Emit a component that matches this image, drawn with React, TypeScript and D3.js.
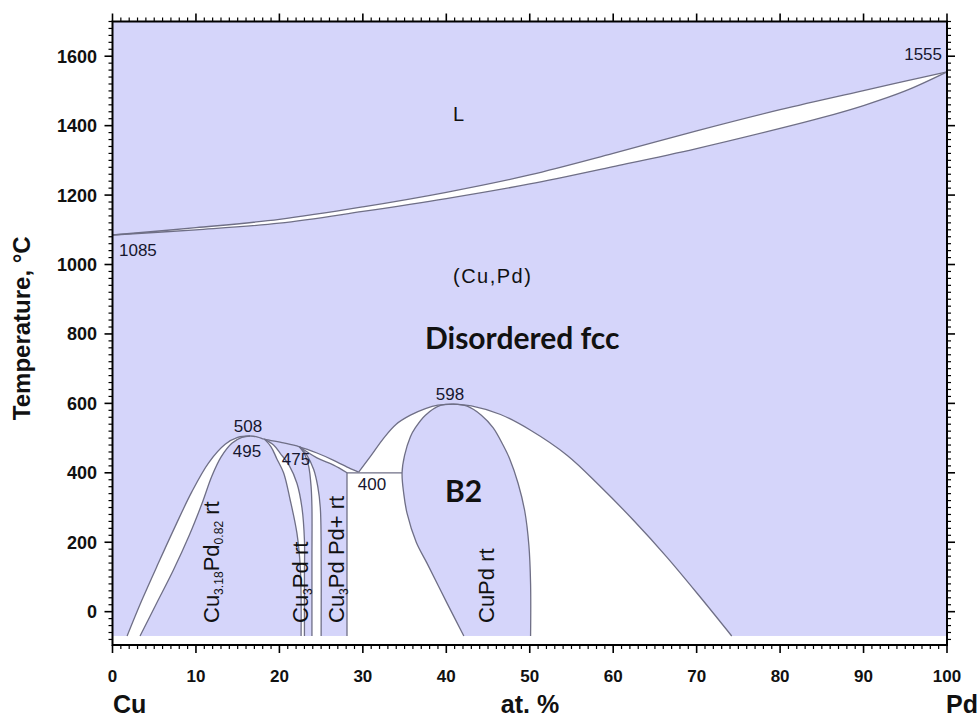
import React from 'react';
import * as d3 from 'd3';

type P = [number, number];

// ---- axis ticks ----
const xTickValues = [0, 10, 20, 30, 40, 50, 60, 70, 80, 90, 100];
const yTickValues = [0, 200, 400, 600, 800, 1000, 1200, 1400, 1600];

// ---- phase boundaries (at.% Pd, °C) ----
const T_MIN = -70;
const liquidus: P[] = [[0, 1085], [10, 1106], [20, 1130], [30, 1166], [40, 1208], [50, 1258], [60, 1320], [70, 1385], [80, 1446], [90, 1501], [95, 1528], [100, 1555]];
const solidus: P[] = [[0, 1085], [10, 1100], [20, 1119], [30, 1153], [40, 1190], [50, 1232], [60, 1282], [70, 1334], [80, 1392], [85, 1423], [90, 1458], [95, 1500], [100, 1555]];

// fcc / (fcc + ordered) boundary, Cu side up to the 508 maximum
const fccOrderedLeft: P[] = [[1.75, T_MIN], [3.5, 32], [5.5, 140], [7.5, 245], [9.5, 345], [11.5, 428], [13.5, 482], [15, 502], [16.5, 506]];
// fcc / (fcc + ordered) boundary from 508 maximum to the 400 line
const fccOrderedTop: P[] = [[16.5, 506], [17.4, 503], [18.2, 497], [20.5, 486], [22.4, 475], [24.5, 457], [26.5, 436], [28.5, 412], [29.5, 402]];
// (fcc + Cu3.18Pd0.82) / Cu3.18Pd0.82 boundary
const l12Left: P[] = [[3.3, T_MIN], [5.3, 25], [7.3, 120], [9.2, 220], [10.7, 310], [11.9, 390], [13.0, 445], [14.3, 485], [15.5, 502], [16.5, 506]];
// Cu3.18Pd0.82 right boundary (from 495)
const l12Right: P[] = [[18.2, 497], [19.0, 475], [19.7, 440], [20.5, 400], [21.3, 321], [22.1, 226], [22.5, 130], [22.6, 40], [22.6, T_MIN]];
// Cu3Pd rt left boundary (from 495)
const lps1Left: P[] = [[18.2, 497], [19.3, 480], [20.1, 456], [21.2, 420], [22.1, 370], [22.7, 300], [23.0, 206], [23.0, 100], [23.0, T_MIN]];
// Cu3Pd rt right boundary (from 475)
const lps1Right: P[] = [[22.4, 475], [23.0, 455], [23.5, 420], [23.8, 360], [23.9, 300], [23.9, 150], [23.9, T_MIN]];
// Cu3Pd Pd+ rt left boundary (from 475)
const lps2Left: P[] = [[22.4, 475], [23.3, 450], [24.1, 410], [24.6, 360], [24.9, 300], [25.0, 200], [25.0, T_MIN]];
// Cu3Pd Pd+ rt upper/right boundary
const lps2Top: P[] = [[22.4, 475], [24.5, 443], [26.5, 422], [28.1, 400]];
const lps2Right: P[] = [[28.1, 400], [28.1, T_MIN]];
// horizontal at 400
const line400: P[] = [[28.1, 400], [34.7, 400]];
// B2 dome
const b2OuterLeft: P[] = [[29.5, 402], [31, 450], [32.5, 500], [34, 540], [35.7, 566], [37.5, 585], [39, 595], [40.8, 598]];
const b2OuterRight: P[] = [[40.8, 598], [43, 593], [46.5, 568], [50, 524], [54.5, 450], [58.4, 362], [62.4, 264], [66.4, 158], [70.4, 43], [74.2, T_MIN]];
const b2InnerLeft: P[] = [[40.8, 598], [39.3, 594], [37.5, 566], [36.3, 530], [35.7, 504], [35.0, 450], [34.7, 400], [34.9, 340], [35.3, 283], [36.4, 200], [37.7, 139], [40.1, 24], [42.1, T_MIN]];
const b2InnerRight: P[] = [[40.8, 598], [42.5, 592], [44.2, 566], [45.6, 530], [46.8, 480], [47.6, 440], [48.6, 370], [49.4, 290], [49.9, 190], [50.1, 80], [50.1, T_MIN]];

// ---- layout ----
const W = 979, H = 720;
const X0 = 112.5, X1 = 947, YB = 645, YT = 21.5;
const x = d3.scaleLinear().domain([0, 100]).range([X0, X1]);
const y = d3.scaleLinear().domain([-96, 1700]).range([YB, YT]);

const LAV = '#d5d5fa';
const LINE = '#6f6f86';
const NUM = '#17172e';
const SANS = '"Liberation Sans", Arial, Helvetica, sans-serif';
const CAL = 'Lato, "Open Sans", sans-serif';

const lineGen = d3.line<P>().x(d => x(d[0])).y(d => y(d[1])).curve(d3.curveCatmullRom.alpha(0.5));
const rev = (a: P[]) => [...a].reverse();
function region(...segs: P[][]): string {
  return segs.map((s, i) => {
    const p = lineGen(s) as string;
    return i === 0 ? p : 'L' + p.slice(1);
  }).join('') + 'Z';
}

const whiteRegions = [
  region(liquidus, rev(solidus)),
  region(fccOrderedLeft, rev(l12Left)),
  region(l12Right, rev(lps1Left)),
  region(lps1Right, rev(lps2Left)),
  region(fccOrderedTop.slice(4), [[28.1, 400], [28.1, 400]] as P[], rev(lps2Top)),
  region(rev(lps2Right), b2OuterLeft, b2InnerLeft),
  region(b2InnerRight, rev(b2OuterRight)),
];

const boundaries = [liquidus, solidus, fccOrderedLeft, fccOrderedTop, l12Left, l12Right, lps1Left, lps1Right, lps2Left, lps2Top, lps2Right, line400, b2OuterLeft, b2OuterRight, b2InnerLeft, b2InnerRight];

const xMinor = d3.range(0, 101, 1).filter(v => v % 10 !== 0);
const yMinor = d3.range(-80, 1701, 20).filter(v => v % 200 !== 0);

function RotLabel({ px, py, parts, size }: { px: number; py: number; parts: { t: string; sub?: boolean }[]; size: number }) {
  return (
    <text transform={`translate(${px},${py}) rotate(-90)`} fontFamily={SANS} fontSize={size} fill="#111">
      {parts.map((p, i) => p.sub
        ? <tspan key={i} fontSize={size * 0.55} dy={size * 0.18}>{p.t}</tspan>
        : <tspan key={i} dy={i > 0 && parts[i - 1].sub ? -size * 0.18 : 0}>{p.t}</tspan>)}
    </text>
  );
}

export default function App() {
  return (
    <svg width={W} height={H} style={{ position: 'absolute', left: 0, top: 0, background: '#fff' }}>
      {/* plot background */}
      <rect x={x(0)} y={y(1700)} width={x(100) - x(0)} height={y(T_MIN) - y(1700)} fill={LAV} />
      {whiteRegions.map((d, i) => <path key={i} d={d} fill="#fff" stroke="none" />)}
      {boundaries.map((b, i) => <path key={i} d={lineGen(b) as string} fill="none" stroke={LINE} strokeWidth={1.3} />)}

      {/* frame */}
      <rect x={X0} y={YT} width={X1 - X0} height={YB - YT} fill="none" stroke="#000" strokeWidth={2} />
      {/* x ticks bottom & top */}
      {xTickValues.map(v => (
        <g key={'xt' + v}>
          <line x1={x(v)} x2={x(v)} y1={YB} y2={YB + 8} stroke="#000" strokeWidth={1.6} />
          <line x1={x(v)} x2={x(v)} y1={YT} y2={YT - 8} stroke="#000" strokeWidth={1.6} />
          <text x={x(v)} y={682} textAnchor="middle" fontFamily={SANS} fontWeight="bold" fontSize={17} fill="#111">{v}</text>
        </g>
      ))}
      {xMinor.map(v => (
        <g key={'xm' + v}>
          <line x1={x(v)} x2={x(v)} y1={YB} y2={YB + 4} stroke="#000" strokeWidth={1.2} />
          <line x1={x(v)} x2={x(v)} y1={YT} y2={YT - 4} stroke="#000" strokeWidth={1.2} />
        </g>
      ))}
      {/* y ticks left & right */}
      {yTickValues.map(v => (
        <g key={'yt' + v}>
          <line x1={X0} x2={X0 - 8} y1={y(v)} y2={y(v)} stroke="#000" strokeWidth={1.6} />
          <line x1={X1} x2={X1 + 8} y1={y(v)} y2={y(v)} stroke="#000" strokeWidth={1.6} />
          <text x={97} y={y(v)} dy="0.36em" textAnchor="end" fontFamily={SANS} fontWeight="bold" fontSize={18} fill="#111">{v}</text>
        </g>
      ))}
      {yMinor.map(v => (
        <g key={'ym' + v}>
          <line x1={X0} x2={X0 - 4} y1={y(v)} y2={y(v)} stroke="#000" strokeWidth={1.2} />
          <line x1={X1} x2={X1 + 4} y1={y(v)} y2={y(v)} stroke="#000" strokeWidth={1.2} />
        </g>
      ))}

      {/* axis titles */}
      <text transform={`translate(30,${(YT + YB) / 2 - 5}) rotate(-90)`} textAnchor="middle" fontFamily={SANS} fontWeight="bold" fontSize={24} fill="#111">Temperature, °C</text>
      <text x={113} y={713} fontFamily={SANS} fontWeight="bold" fontSize={25} fill="#111">Cu</text>
      <text x={530} y={713} textAnchor="middle" fontFamily={SANS} fontWeight="bold" fontSize={25} fill="#111">at. %</text>
      <text x={946} y={713} fontFamily={SANS} fontWeight="bold" fontSize={25} fill="#111">Pd</text>

      {/* value annotations */}
      <text x={942} y={60} textAnchor="end" fontFamily={SANS} fontSize={17} fill={NUM}>1555</text>
      <text x={119} y={256} fontFamily={SANS} fontSize={17} fill={NUM}>1085</text>
      <text x={248} y={432} textAnchor="middle" fontFamily={SANS} fontSize={17} fill={NUM}>508</text>
      <text x={247} y={457} textAnchor="middle" fontFamily={SANS} fontSize={17} fill={NUM}>495</text>
      <text x={296} y={465} textAnchor="middle" fontFamily={SANS} fontSize={17} fill={NUM}>475</text>
      <text x={372} y={490} textAnchor="middle" fontFamily={SANS} fontSize={17} fill={NUM}>400</text>
      <text x={450} y={400} textAnchor="middle" fontFamily={SANS} fontSize={17} fill={NUM}>598</text>

      {/* phase labels */}
      <text x={453} y={121} fontFamily={SANS} fontSize={20} fill="#111">L</text>
      <text x={453} y={283} fontFamily={SANS} fontSize={20} letterSpacing={1.5} fill="#111">(Cu,Pd)</text>
      <text x={425} y={349} fontFamily={CAL} fontWeight="bold" fontSize={30} fill="#111">Disordered fcc</text>
      <text x={445} y={502} fontFamily={CAL} fontWeight="bold" fontSize={30} fill="#111">B2</text>

      <RotLabel px={219} py={623} size={22} parts={[{ t: 'Cu' }, { t: '3.18', sub: true }, { t: 'Pd' }, { t: '0.82', sub: true }, { t: ' rt' }]} />
      <RotLabel px={308} py={623} size={22} parts={[{ t: 'Cu' }, { t: '3', sub: true }, { t: 'Pd rt' }]} />
      <RotLabel px={344} py={623} size={22} parts={[{ t: 'Cu' }, { t: '3', sub: true }, { t: 'Pd Pd+ rt' }]} />
      <RotLabel px={494} py={623} size={22} parts={[{ t: 'CuPd rt' }]} />
    </svg>
  );
}
